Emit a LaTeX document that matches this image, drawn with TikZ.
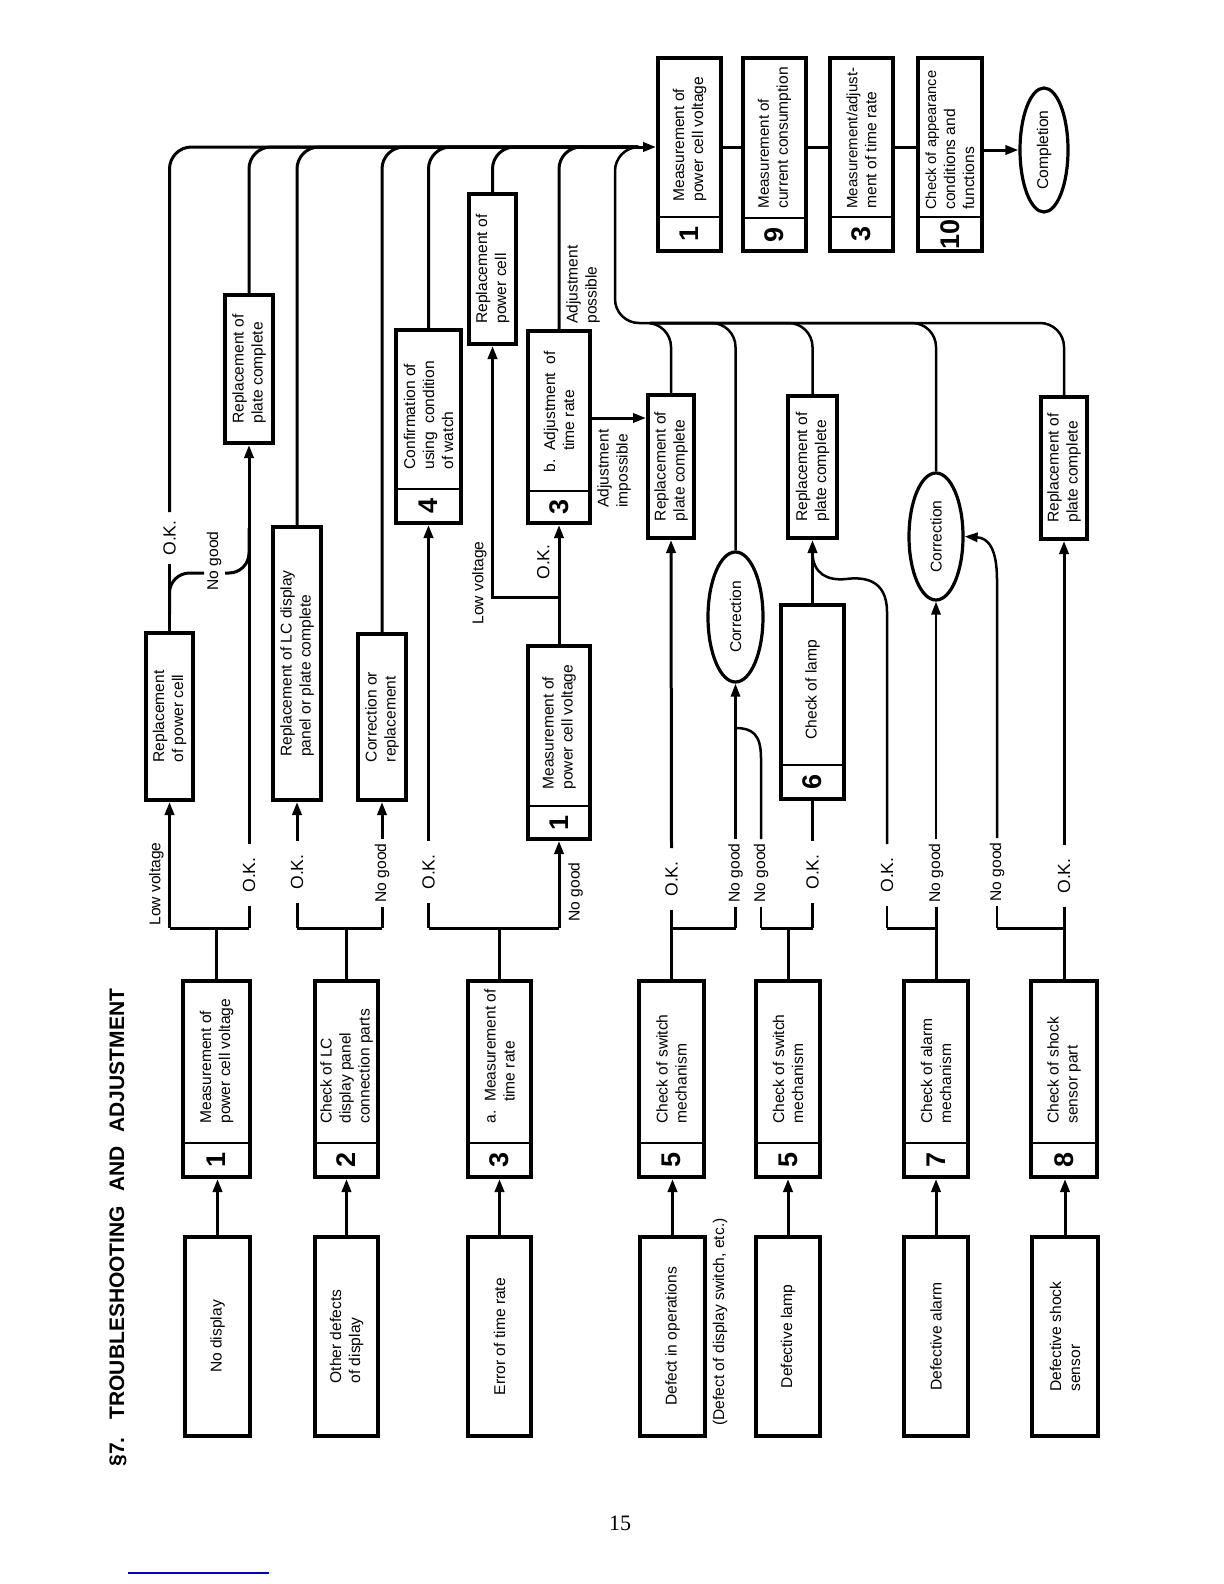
\documentclass[tikz,border=0pt]{standalone}
\usepackage{fontspec}
\setmainfont{Liberation Sans}
\newfontfamily\pagenumfont{Liberation Serif}
\usetikzlibrary{arrows.meta,fit,calc,shapes.geometric}
\tikzset{
 box/.style={draw, line width=2pt, inner sep=0pt},
 divline/.style={line width=1.4pt},
 ln/.style={line width=1.5pt},
 tn/.style={line width=1.25pt},
 arr/.style={-{Triangle[length=6.5pt,width=4.6pt]}},
 txt/.style={rotate=90, font=\fontsize{7.8}{9.5}\selectfont, align=left, inner sep=0pt},
 num/.style={rotate=90, font=\fontsize{13.5}{14}\selectfont\bfseries, inner sep=0pt},
 okl/.style={rotate=90, font=\fontsize{8.8}{10}\selectfont, inner sep=6.5pt},
 ngl/.style={rotate=90, font=\fontsize{7.8}{9.5}\selectfont, inner sep=2pt},
 side/.style={rotate=90, font=\fontsize{7.8}{9.5}\selectfont, align=left, inner sep=0pt},
 oval/.style={ellipse, draw, line width=1.6pt, inner sep=0pt, font=\fontsize{7.8}{9.5}\selectfont},
 rc/.style={rounded corners=11pt},
 rb/.style={rounded corners=12pt},
}
\newcommand{\plainbox}[6]{%
 \node[box, fit={(#2,#3)(#4,#5)}] (#1) {};
 \node[txt] (#1-t) at (#1.center) {#6};}
\newcommand{\numbox}[9]{%
 \node[box, fit={(#2,#3)(#4,#6)}] (#1) {};
 \draw[divline] (#2,#5) -- (#4,#5);
 \node[num] (#1-n) at ($(#2,#5)!0.5!(#4,#6)$) {#7};
 \node[txt, anchor=west] (#1-t) at ($(#2,#5)!0.5!(#4,#5)+(0,-#9)$) {#8};}
\begin{document}
\begin{tikzpicture}[x=0.5pt,y=-0.5pt]
\useasboundingbox (0,0) rectangle (1224,1584);
\fill[white] (0,0) rectangle (1224,1584);

% title
\node[rotate=90, anchor=west, inner sep=0pt, font=\fontsize{10.5}{12}\selectfont\bfseries] (title) at (118,1467)
 {§7.\hspace{9pt}TROUBLESHOOTING\hspace{7pt}AND\hspace{7pt}ADJUSTMENT};

% problem boxes
\plainbox{P1}{185}{1237}{250}{1436}{No display}
\plainbox{P2}{315}{1237}{378}{1436}{Other defects\\of display}
\plainbox{P3}{468}{1237}{531}{1436}{Error of time rate}
\plainbox{P5a}{640}{1237}{705}{1436}{Defect in operations}
\plainbox{P5b}{756}{1237}{820}{1436}{Defective lamp}
\plainbox{P7}{904}{1237}{968}{1436}{Defective alarm}
\plainbox{P8}{1032}{1237}{1098}{1436}{Defective shock\\sensor}
\node[side] (pnote) at (720,1322) {(Defect of display switch, etc.)};

% check boxes
\numbox{C1}{183}{981}{250}{1143}{1177}{1}{Measurement of\\power cell voltage}{19}
\numbox{C2}{315}{981}{378}{1143}{1177}{2}{Check of LC\\display panel\\connection parts}{19}
\numbox{C3}{468}{981}{531}{1143}{1177}{3}{a.\ \ Measurement of\\\hphantom{a.\ \ }time rate}{19}
\numbox{C5a}{639}{981}{704}{1143}{1177}{5}{Check of switch\\mechanism}{19}
\numbox{C5b}{756}{981}{820}{1143}{1177}{5}{Check of switch\\mechanism}{19}
\numbox{C7}{904}{981}{968}{1143}{1177}{7}{Check of alarm\\mechanism}{19}
\numbox{C8}{1031}{981}{1097}{1143}{1177}{8}{Check of shock\\sensor part}{19}

\foreach \p/\c in {P1/C1,P2/C2,P3/C3,P5a/C5a,P5b/C5b,P7/C7,P8/C8}
 \draw[ln,arr] (\p.north) -- (\p.north |- \c.south);

% middle / upper boxes
\plainbox{R1}{146}{633}{193}{800}{Replacement\\of power cell}
\plainbox{RP1}{225}{295}{273}{443}{Replacement of\\plate complete}
\plainbox{LC}{273}{527}{321}{800}{Replacement of LC display\\panel or plate complete}
\plainbox{CR}{358}{634}{406}{800}{Correction or\\replacement}
\numbox{C4}{396}{330}{461}{489}{523}{4}{Confirmation of\\using\ \ condition\\of watch}{19}
\plainbox{RPC2}{469}{194}{516}{344}{Replacement of\\power cell}
\numbox{C3b}{528}{331}{590}{491}{523}{3}{b.\ \ Adjustment\ \ of\\\hphantom{b.\ \ }time rate}{18}
\numbox{M1b}{528}{646}{590}{806}{839}{1}{Measurement of\\power cell voltage}{16}
\plainbox{RPC5a}{648}{395}{694}{538}{Replacement of\\plate complete}
\plainbox{RPL}{788}{396}{837}{538}{Replacement of\\plate complete}
\numbox{C6}{781}{605}{844}{765}{799}{6}{Check of lamp}{25}
\plainbox{RPC8}{1041}{397}{1087}{539}{Replacement of\\plate complete}
\node[oval, minimum width=27.5pt, minimum height=65pt] (Co1) at (735.5,617) {\rotatebox{90}{Correction}};
\node[oval, minimum width=27pt, minimum height=63.5pt] (Co2) at (936,536.5) {\rotatebox{90}{Correction}};

% final chain
\numbox{T1}{658}{58}{721}{217}{251}{1}{Measurement of\\power cell voltage}{15}
\numbox{T9}{743}{58}{806}{218}{251}{9}{\fontsize{7.6}{9.5}\selectfont Measurement of\\current consumption}{9}
\numbox{T3}{830}{58}{893}{217}{251}{3}{\fontsize{7.5}{9.5}\selectfont Measurement/adjust-\\ment of time rate}{8}
\numbox{T10}{918}{58}{982}{217}{251}{10}{\fontsize{7.3}{9.5}\selectfont Check of appearance\\conditions and\\functions}{7}
\node[oval, minimum width=24pt, minimum height=62pt] (Comp) at (1044,150) {\rotatebox{90}{Completion}};

\coordinate (yb) at (0,928);
\coordinate (by) at (0,147);
\coordinate (bend) at (638,147);
\coordinate (b2) at (615,323);
\coordinate (b2e) at (650,323);

% bus 1 arrow and final chain
\draw[ln,arr] (bend) -- (T1.west |- by);
\draw[ln] (T1.east |- by) -- (T9.west |- by);
\draw[ln] (T9.east |- by) -- (T3.west |- by);
\draw[ln] (T3.east |- by) -- (T10.west |- by);
\draw[ln,arr] (T10.east |- Comp.west) -- (Comp.west);

% Row 1
\node[okl] (l1ok) at (249,875) {O.K.};
\node[side, anchor=south] (l1lv) at (164,884) {Low voltage};
\draw[ln] (C1.north) -- (C1.north |- yb);
\draw[ln] (R1.south |- yb) -- (l1ok.west |- yb);
\draw[ln,arr] (R1.south |- yb) -- (R1.south);
\draw[ln] (l1ok.west |- yb) -- (l1ok.west);
\draw[ln,arr] (l1ok.east) -- (RP1.south);
\node[okl, inner sep=4pt] (l1ok2) at (169.5,538) {O.K.};
\draw[ln] (R1.north) -- (l1ok2.west);
\draw[ln, rc] (l1ok2.east) |- (bend);
\node[ngl] (ng1) at (214,561) {No good};
\draw[ln, rounded corners=10pt] (169.5,614) |- (204,573);
\draw[ln, rounded corners=10pt] (225,573) -| (249,528);
\draw[ln, rc] (RP1.north) |- (bend);

% Row 2
\node[okl] (l2ok) at (297,872) {O.K.};
\node[ngl] (l2ng) at (382,873) {No good};
\draw[ln] (C2.north) -- (C2.north |- yb);
\draw[ln] (l2ok.west |- yb) -- (l2ng.west |- yb);
\draw[ln] (l2ok.west |- yb) -- (l2ok.west);
\draw[ln,arr] (l2ok.east) -- (LC.south);
\draw[ln] (l2ng.west |- yb) -- (l2ng.west);
\draw[ln,arr] (l2ng.east) -- (CR.south);
\draw[ln, rc] (LC.north) |- (bend);
\draw[ln, rc] (CR.north) |- (bend);

% Row 3
\node[okl] (l3ok) at (428.5,872) {O.K.};
\node[side, anchor=north] (l3ng) at (568,892) {No good};
\draw[ln] (C3.north) -- (C3.north |- yb);
\draw[ln] (l3ok.west |- yb) -- (M1b.south |- yb);
\draw[ln] (l3ok.west |- yb) -- (l3ok.west);
\draw[ln,arr] (l3ok.east) -- (C4.south);
\draw[ln,arr] (M1b.south |- yb) -- (M1b.south);
\coordinate (j3) at (559,597);
\draw[ln,arr] (M1b.north) -- (M1b.north |- j3) -| (RPC2.south);
\draw[ln,arr] (M1b.north |- j3) -- (C3b.south);
\node[side, anchor=south] (l3lv) at (487,583) {Low voltage};
\node[okl, anchor=south, inner sep=0pt] (l3ok2) at (550,562) {O.K.};
\draw[ln, rc] (C4.north) |- (bend);
\draw[ln, rc] (RPC2.north) |- (bend);
\draw[ln, rc] (C3b.north) |- (bend);
\coordinate (ya) at (0,418);
\draw[ln,arr] (C3b.east |- ya) -- (RPC5a.west |- ya);
\node[side, anchor=north west] (ladj1) at (597,508) {Adjustment\\impossible};
\node[side, anchor=north west] (ladj2) at (566,324) {Adjustment\\possible};

% Row 5a
\node[okl] (l5ok) at (671.5,879) {O.K.};
\node[ngl] (l5ng) at (735.5,873) {No good};
\draw[ln] (C5a.north) -- (C5a.north |- yb) -- (l5ng.west |- yb);
\draw[ln] (C5a.north |- yb) -- (l5ok.west);
\draw[ln,arr] (l5ok.east) -- (RPC5a.south);
\draw[tn] (l5ng.west |- yb) -- (l5ng.west);
\draw[tn,arr] (l5ng.east) -- (Co1.south);

% Row 5b
\node[ngl] (l5bng) at (761,873) {No good};
\node[okl] (l5bok) at (812.5,872) {O.K.};
\draw[ln] (C5b.north) -- (C5b.north |- yb);
\draw[ln] (l5bng.west |- yb) -- (l5bok.west |- yb);
\draw[tn] (l5bng.west |- yb) -- (l5bng.west);
\draw[tn] (l5bng.east) -- (761,758) .. controls (761,734) and (752,728) .. (735.5,728);
\draw[ln] (l5bok.west |- yb) -- (l5bok.west);
\draw[ln] (l5bok.east) -- (C6.south);
\draw[ln,arr] (C6.north) -- (RPL.south);

% Row 7
\node[okl] (l7ok) at (887,875) {O.K.};
\node[ngl] (l7ng) at (936,873) {No good};
\draw[ln] (C7.north) -- (C7.north |- yb) -- (l7ok.west |- yb);
\draw[tn] (l7ok.west |- yb) -- (l7ok.west);
\draw[tn] (l7ok.east) -- (887,612) .. controls (887,578) and (862,577) .. (846,579) .. controls (828,581) and (812.5,574) .. (812.5,552);
\draw[ln] (C7.north |- yb) -- (l7ng.west);
\draw[tn,arr] (l7ng.east) -- (Co2.south);

% Row 8
\node[ngl] (l8ng) at (997,872) {No good};
\node[okl] (l8ok) at (1064,876) {O.K.};
\draw[ln] (C8.north) -- (C8.north |- yb) -- (l8ng.west |- yb);
\draw[tn] (l8ng.west |- yb) -- (l8ng.west);
\draw[tn,arr] (l8ng.east) -- (997,580) .. controls (997,548) and (988,538) .. (Co2.east);
\draw[ln] (C8.north |- yb) -- (l8ok.west);
\draw[ln,arr] (l8ok.east) -- (RPC8.south);

% bus 2
\draw[tn, rb] (RPC5a.north) |- (b2) |- (bend);
\draw[tn, rb] (Co1.north) |- (b2e);
\draw[tn, rb] (RPL.north) |- (b2e);
\draw[tn, rb] (Co2.north) |- (b2e);
\draw[tn, rb] (RPC8.north) |- (b2e);

% page number and rule
\node[font=\pagenumfont\fontsize{11}{12}\selectfont, inner sep=0pt] (pnum) at (620,1523) {15};
\draw[blue!75!black, line width=0.7pt] (128,1573) -- (269,1573);
\end{tikzpicture}
\end{document}
